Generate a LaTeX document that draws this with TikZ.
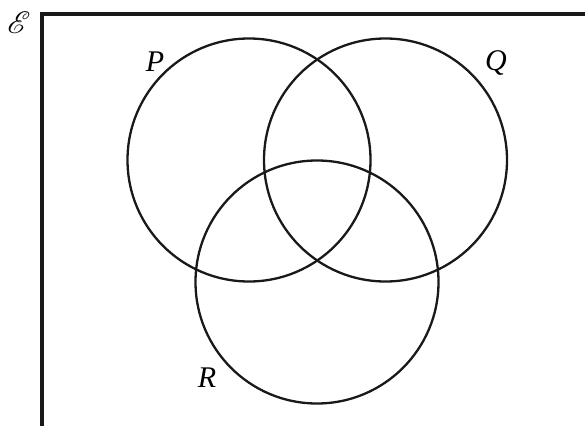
\documentclass[tikz,border=0pt]{standalone}
\usepackage{mathrsfs}
\usepackage{fontspec}
\newfontfamily\setfont{Liberation Serif}
\begin{document}
\begin{tikzpicture}[x=1pt, y=-1pt,
        setlabel/.style={font=\fontsize{30}{32}\setfont\itshape}]
        \useasboundingbox (0, 0) rectangle (585, 425);
        \clip (0, 0) rectangle (585, 425);

        \def\rad{121.5}

        % universal set
        \draw[line width=3.6pt, black!90] (42, 14) -- (600, 14);
        \draw[line width=3.6pt, black!90] (42, 12.2) -- (42, 440);
        \node (uset) at (19, 23) {\scalebox{3.1}{\( \mathscr{E} \)}};

        % the three sets
        \draw[line width=2.3pt, black!90] (249, 160) circle (\rad);
        \draw[line width=2.3pt, black!90] (385.5, 160) circle (\rad);
        \draw[line width=2.3pt, black!90] (317, 282) circle (\rad);

        \node[setlabel] (lblP) at (155, 62) {P};
        \node[setlabel] (lblQ) at (496, 63) {Q};
        \node[setlabel] (lblR) at (207, 378) {R};
    \end{tikzpicture}
\end{document}
